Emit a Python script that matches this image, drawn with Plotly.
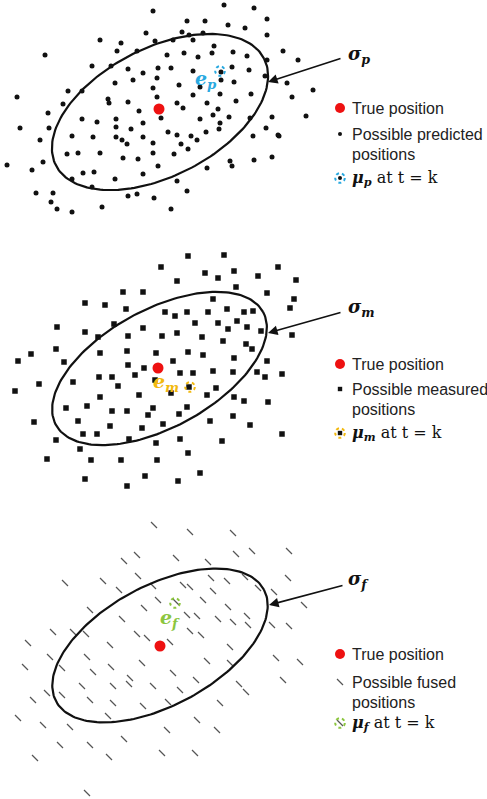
import numpy as np
import plotly.graph_objects as go

# ---------------- data (picture coordinates, y downwards) ----------------
# Panel 1: possible predicted positions
pred_x = [153,224,254,267,187,205,228,245,146,182,203,189,267,100,121,155,173,193,214,117,137,167,184,198,212,233,247,45,267,
          92,111,128,143,158,171,193,221,232,249,115,133,157,179,200,221,234,265,68,82,153,17,108,109,128,157,193,220,251,
          63,139,177,183,207,236,218,48,82,97,116,161,200,213,229,20,49,116,131,143,220,250,272,266,278,168,177,191,206,219,
          40,72,93,116,122,127,143,153,181,197,253,78,67,100,153,174,188,123,138,43,7,158,207,230,232,254,272,32,83,94,143,
          72,115,177,92,36,53,187,128,137,154,51,102,57,72,171,283,298,287,292,313,306,279]
pred_y = [11,5,8,19,21,21,25,28,33,32,33,35,35,40,43,41,40,40,46,51,51,55,53,57,53,52,56,55,60,
          66,66,69,73,68,68,71,72,67,70,83,80,78,85,87,80,82,76,91,91,88,97,99,103,102,97,95,94,94,
          104,111,103,108,103,101,109,113,119,122,119,118,119,115,117,128,128,127,129,123,123,118,117,128,135,132,135,136,132,129,
          140,136,137,137,140,144,137,143,144,140,136,153,154,153,153,154,149,158,159,162,165,166,168,161,166,160,157,170,173,172,174,
          179,179,181,187,193,193,191,196,194,198,202,207,209,212,209,51,60,83,97,90,116,136]

# Panel 2: possible measured positions
meas_x = [188,224,161,205,218,234,258,278,296,177,236,123,143,267,213,294,85,105,126,165,175,187,208,227,244,253,290,114,195,218,237,
          57,85,143,177,162,128,98,202,228,247,261,292,223,246,252,56,31,100,127,156,188,203,18,64,173,234,267,128,144,180,193,213,
          233,257,282,99,112,135,155,265,39,73,118,189,216,15,100,139,171,207,234,244,268,66,87,127,153,187,112,148,179,34,78,110,
          163,210,233,250,142,83,97,129,156,180,222,282,56,80,47,91,121,157,188,85,127,145,178,200]
meas_y = [256,255,267,273,278,271,276,267,280,281,287,292,292,293,299,299,303,305,309,312,316,312,312,309,312,311,308,324,323,323,321,
          327,332,328,333,336,336,337,337,329,327,331,335,341,344,349,349,354,353,351,353,352,355,361,362,361,358,361,365,368,373,373,371,
          372,372,374,377,377,375,380,377,384,382,386,387,388,391,397,395,393,395,397,401,402,408,406,411,408,407,411,415,414,422,421,426,
          424,421,416,425,428,434,434,439,443,439,441,434,440,449,459,460,460,460,453,479,486,476,481,473]

# Panel 3: possible fused positions
fused_x = [154,190,233,137,124,176,208,236,252,289,65,103,138,119,153,183,190,211,227,245,258,274,288,90,144,158,176,203,213,228,247,
           73,122,187,197,218,233,272,289,53,86,110,137,147,170,190,201,230,248,28,50,87,142,173,207,230,276,25,62,93,111,130,82,113,
           129,153,180,196,239,246,283,47,62,33,90,113,143,168,220,18,43,70,108,167,197,217,124,60,90,35,109,162,195,87,304,300]
fused_y = [525,532,533,555,561,558,562,554,551,551,583,581,576,590,586,585,587,578,581,577,588,592,578,610,608,600,602,600,591,607,616,
           632,619,615,616,619,622,625,626,632,634,645,634,638,642,631,635,647,625,643,657,657,663,673,661,663,658,667,668,672,667,678,686,686,
           684,686,690,680,684,692,680,693,695,700,700,703,706,702,703,718,725,727,716,730,720,730,739,745,745,758,757,753,753,793,605,662]

# true positions, estimates (mu) and panel labels
true_x = [159, 158, 160]
true_y = [109, 368, 646]
mu_x = [220, 190, 175]
mu_y = [71, 387, 603]
mu_colors = ["#29a9e0", "#f2b90f", "#8cc63f"]
sub = ["p", "m", "f"]
legend_second = ["Possible predicted", "Possible measured", "Possible fused"]

# ellipse parameters: centre, semi axes, tilt (deg)
ell_cx = [160, 159.5, 160]
ell_cy = [112, 368.5, 645.5]
ell_a = [117, 118, 118]
ell_b = [64, 59, 60]
ell_t = [27.2, 28.6, 28.3]

# arrows (tail -> head) and sigma label positions
arr_tail = [(342, 58), (342, 312), (344, 585)]
arr_head = [(268, 82), (268, 333), (269, 605)]
sig_pos = [(346, 55), (346, 308), (346, 580)]

# legend rows per panel: true, second line 1, second line 2, mu line
leg_y = [(108, 134, 154, 178), (364, 389, 409, 433), (654, 682, 702, 723)]
leg_x_marker = 340
leg_x_text = 350

# ---------------- figure ----------------
fig = go.Figure()

fig.add_trace(go.Scatter(x=pred_x, y=pred_y, mode="markers",
                         marker=dict(symbol="circle", size=5, color="#111"), hoverinfo="skip"))
fig.add_trace(go.Scatter(x=meas_x, y=meas_y, mode="markers",
                         marker=dict(symbol="square", size=5.5, color="#111"), hoverinfo="skip"))
fig.add_trace(go.Scatter(x=fused_x, y=fused_y, mode="markers",
                         marker=dict(symbol="line-nw", size=6, line=dict(width=1.3, color="#555")), hoverinfo="skip"))

# ellipses
for cx, cy, a, b, t in zip(ell_cx, ell_cy, ell_a, ell_b, ell_t):
    th = np.deg2rad(t)
    s = np.linspace(0, 2 * np.pi, 200)
    ex = cx + a * np.cos(th) * np.cos(s) - b * np.sin(th) * np.sin(s)
    ey = cy - (a * np.sin(th) * np.cos(s) + b * np.cos(th) * np.sin(s))
    fig.add_trace(go.Scatter(x=ex, y=ey, mode="lines", line=dict(color="#111", width=2.2), hoverinfo="skip"))

# red true positions
fig.add_trace(go.Scatter(x=true_x, y=true_y, mode="markers",
                         marker=dict(size=11, color="#ee1111"), hoverinfo="skip"))

serif = "DejaVu Serif"
sans = "Liberation Sans"
shapes = []
ann = []
inner_sym = ["circle", "square", "line-nw"]
inner_size = [5, 5.5, 6]

for i in range(3):
    # dotted circle around estimate in panel
    r = 4.8
    shapes.append(dict(type="circle", xref="x", yref="y", x0=mu_x[i] - r, x1=mu_x[i] + r,
                       y0=mu_y[i] - r, y1=mu_y[i] + r, line=dict(color=mu_colors[i], width=2, dash="dot")))
    # error label
    if i == 0:
        ex, ey = mu_x[i] - 14, mu_y[i] + 8
    elif i == 1:
        ex, ey = mu_x[i] - 24, mu_y[i] - 5
    else:
        ex, ey = mu_x[i] - 5, mu_y[i] + 15
    ann.append(dict(x=ex, y=ey, xref="x", yref="y", showarrow=False,
                    text=f"<b><i>e</i></b><sub><b><i>{sub[i]}</i></b></sub>",
                    font=dict(family=serif, size=19, color=mu_colors[i])))
    # arrow
    ann.append(dict(x=arr_head[i][0], y=arr_head[i][1], ax=arr_tail[i][0], ay=arr_tail[i][1],
                    xref="x", yref="y", axref="x", ayref="y", showarrow=True, arrowhead=2,
                    arrowsize=1.2, arrowwidth=1.6, arrowcolor="#111", text=""))
    # sigma label
    ann.append(dict(x=sig_pos[i][0], y=sig_pos[i][1], xref="x", yref="y", showarrow=False, xanchor="left",
                    text=f"<b><i>σ</i></b><sub><b><i>{sub[i]}</i></b></sub>",
                    font=dict(family=serif, size=18, color="#111")))
    # legend
    ty, l1, l2, lm = leg_y[i]
    ann.append(dict(x=leg_x_text, y=ty, xref="x", yref="y", showarrow=False, xanchor="left",
                    text="True position", font=dict(family=sans, size=16, color="#222")))
    ann.append(dict(x=leg_x_text, y=l1, xref="x", yref="y", showarrow=False, xanchor="left",
                    text=legend_second[i], font=dict(family=sans, size=16, color="#222")))
    ann.append(dict(x=leg_x_text, y=l2, xref="x", yref="y", showarrow=False, xanchor="left",
                    text="positions", font=dict(family=sans, size=16, color="#222")))
    ann.append(dict(x=leg_x_text, y=lm, xref="x", yref="y", showarrow=False, xanchor="left",
                    text=f"<b><i>μ</i></b><sub><b><i>{sub[i]}</i></b></sub> at t = k",
                    font=dict(family=serif, size=16, color="#111")))
    shapes.append(dict(type="circle", xref="x", yref="y", x0=leg_x_marker - r, x1=leg_x_marker + r,
                       y0=lm - r, y1=lm + r, line=dict(color=mu_colors[i], width=2, dash="dot")))
    fig.add_trace(go.Scatter(x=[leg_x_marker], y=[ty], mode="markers",
                             marker=dict(size=10, color="#ee1111"), hoverinfo="skip"))
    if i < 2:
        mk = dict(symbol=inner_sym[i], size=inner_size[i] * 0.8, color="#111")
    else:
        mk = dict(symbol=inner_sym[i], size=inner_size[i], line=dict(width=1.3, color="#555"))
    fig.add_trace(go.Scatter(x=[leg_x_marker, leg_x_marker], y=[l1, lm], mode="markers",
                             marker=mk, hoverinfo="skip"))

fig.update_layout(
    width=487, height=799, margin=dict(l=0, r=0, t=0, b=0),
    paper_bgcolor="white", plot_bgcolor="white", showlegend=False,
    xaxis=dict(range=[0, 487], visible=False, fixedrange=True),
    yaxis=dict(range=[799, 0], visible=False, fixedrange=True),
    shapes=shapes, annotations=ann,
)

fig.write_html("out.html", config={"displayModeBar": False},
               post_script="document.body.style.margin='0';document.body.style.overflow='hidden';")
